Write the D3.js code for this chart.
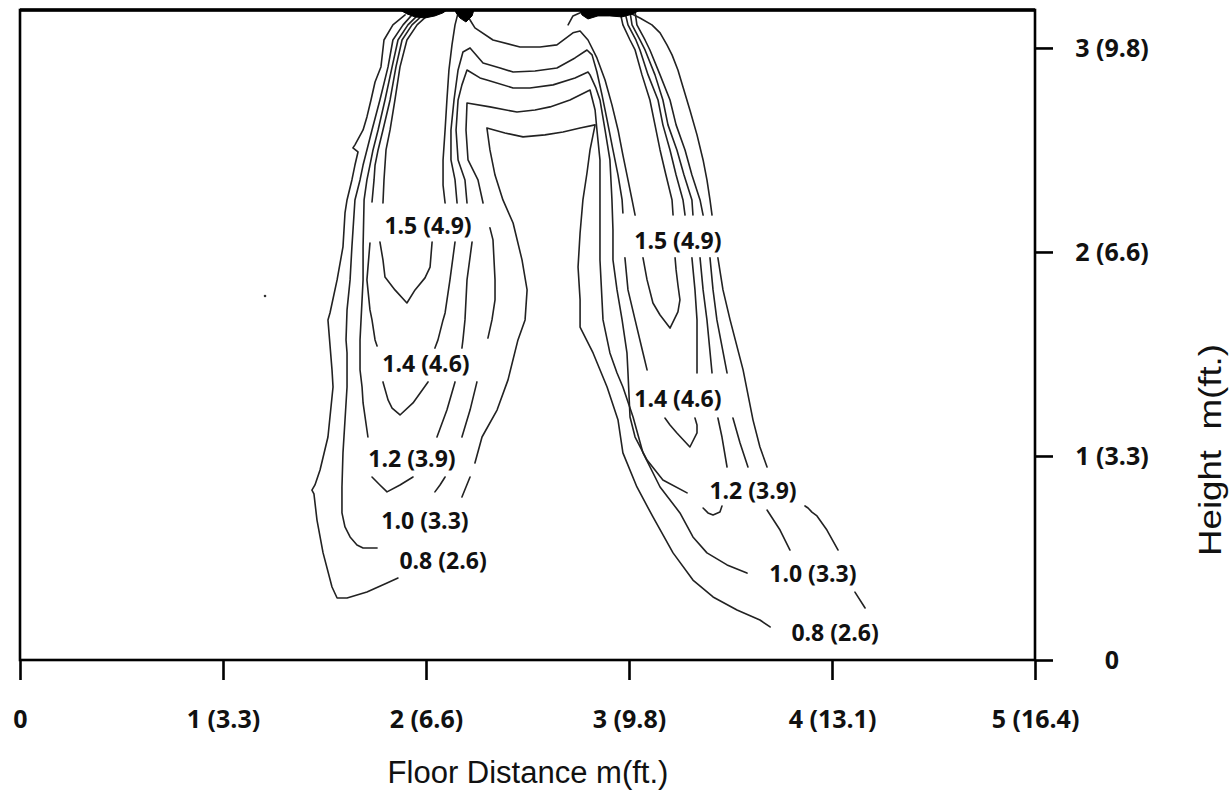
<!DOCTYPE html>
<html><head><meta charset="utf-8">
<script src="https://cdn.jsdelivr.net/npm/d3@7"></script>
<style>
body{margin:0;background:#fff;}
svg{display:block;background:#fff;}
</style></head>
<body>
<svg id="chart" width="1229" height="797"></svg>
<script>
// ---------- axes ----------
const xTicks = [0, 1, 2, 3, 4, 5];
const xTickLabels = ["0", "1 (3.3)", "2 (6.6)", "3 (9.8)", "4 (13.1)", "5 (16.4)"];
const yTicks = [0, 1, 2, 3];
const yTickLabels = ["0", "1 (3.3)", "2 (6.6)", "3 (9.8)"];
const xMax = 5;
const yTop = 3.186;
const xTitle = "Floor Distance m(ft.)";
const yTitle = "Height  m(ft.)";

// ---------- contour lines (metres: [floor distance, height]) ----------
const line08LeftOuter = [[1.897,3.162],[1.837,3.113],[1.793,3.039],[1.778,2.907],[1.749,2.833],[1.729,2.745],[1.709,2.662],[1.690,2.598],[1.650,2.525],[1.640,2.510],[1.665,2.490],[1.650,2.426],[1.635,2.353],[1.611,2.255],[1.601,2.191],[1.591,2.025],[1.562,1.863],[1.527,1.701],[1.517,1.667],[1.537,1.422],[1.542,1.338],[1.517,1.093],[1.478,0.931],[1.453,0.858],[1.438,0.833],[1.448,0.814],[1.463,0.686],[1.493,0.525],[1.537,0.358],[1.562,0.304],[1.611,0.304],[1.709,0.333],[1.808,0.377],[1.862,0.402]];
const line10LeftOuter = [[1.931,3.162],[1.887,3.113],[1.837,3.039],[1.813,2.907],[1.773,2.745],[1.734,2.598],[1.709,2.500],[1.690,2.426],[1.675,2.353],[1.650,2.255],[1.635,2.025],[1.626,1.863],[1.611,1.716],[1.606,1.569],[1.611,1.505],[1.611,1.338],[1.601,1.176],[1.591,1.015],[1.586,0.848],[1.586,0.721],[1.601,0.652],[1.626,0.603],[1.660,0.564],[1.690,0.549],[1.759,0.549]];
const line12LeftOuter = [[1.961,3.162],[1.911,3.113],[1.862,3.039],[1.833,2.907],[1.798,2.745],[1.764,2.598],[1.739,2.500],[1.724,2.426],[1.709,2.353],[1.695,2.255],[1.690,2.025],[1.690,1.863],[1.680,1.667],[1.675,1.569],[1.675,1.422],[1.685,1.338],[1.690,1.260],[1.714,1.093]];
const line14LeftOuterUpper = [[1.985,3.162],[1.931,3.113],[1.882,3.039],[1.852,2.907],[1.823,2.745],[1.788,2.598],[1.764,2.500],[1.749,2.426],[1.744,2.353],[1.734,2.245]];
const line14LeftOuterLower = [[1.724,2.044],[1.709,1.863],[1.724,1.716],[1.734,1.667],[1.749,1.569],[1.759,1.539]];
const line15LeftOuter = [[2.010,3.162],[1.956,3.113],[1.906,3.039],[1.872,2.907],[1.847,2.745],[1.823,2.598],[1.803,2.500],[1.793,2.353],[1.788,2.240]];
const loop15Left = [[1.773,2.049],[1.788,1.961],[1.798,1.877],[1.847,1.814],[1.906,1.750],[1.946,1.814],[1.995,1.873],[2.020,1.926],[2.030,2.049]];
const loop14Left = [[1.788,1.363],[1.813,1.275],[1.833,1.235],[1.872,1.201],[1.936,1.260],[2.010,1.363]];
const loop12Left = [[1.734,0.897],[1.773,0.858],[1.808,0.824],[1.872,0.858],[1.936,0.897]];
const line15LeftInner = [[2.158,3.172],[2.143,3.113],[2.128,3.015],[2.113,2.892],[2.103,2.745],[2.094,2.598],[2.084,2.451],[2.084,2.328],[2.094,2.240]];
const arch14 = [[2.153,2.240],[2.143,2.353],[2.123,2.451],[2.123,2.598],[2.138,2.745],[2.158,2.892],[2.182,2.980],[2.217,3.000],[2.281,2.926],[2.365,2.902],[2.429,2.882],[2.537,2.887],[2.645,2.902],[2.734,2.951],[2.793,2.990],[2.818,2.966],[2.842,2.882],[2.867,2.770],[2.892,2.647],[2.921,2.500],[2.946,2.377],[2.966,2.255],[2.970,2.191]];
const line14LeftInnerLower = [[2.143,2.049],[2.118,1.863],[2.094,1.701],[2.084,1.667],[2.059,1.569],[2.044,1.529]];
const arch12 = [[2.202,2.240],[2.192,2.353],[2.158,2.451],[2.148,2.598],[2.158,2.745],[2.177,2.819],[2.202,2.892],[2.266,2.853],[2.300,2.843],[2.429,2.804],[2.512,2.804],[2.626,2.819],[2.734,2.853],[2.798,2.882],[2.808,2.868],[2.837,2.804],[2.857,2.745],[2.882,2.598],[2.906,2.451],[2.916,2.255],[2.921,2.108],[2.921,1.961],[2.941,1.814],[2.966,1.667],[2.990,1.505],[2.995,1.407],[3.005,1.191],[3.030,1.093],[3.089,0.980],[3.167,0.882],[3.286,0.819]];
const line12LeftInnerMid = [[2.227,2.049],[2.202,1.863],[2.192,1.667],[2.182,1.569],[2.177,1.529]];
const line12LeftInnerLow = [[2.143,1.363],[2.103,1.225],[2.054,1.093]];
const arch10 = [[2.281,2.240],[2.256,2.353],[2.207,2.451],[2.197,2.598],[2.202,2.730],[2.315,2.711],[2.448,2.686],[2.537,2.696],[2.611,2.711],[2.709,2.745],[2.808,2.794],[2.833,2.696],[2.842,2.598],[2.857,2.451],[2.857,2.255],[2.857,2.108],[2.857,1.961],[2.872,1.667],[2.906,1.505],[2.941,1.407],[2.970,1.338],[3.020,1.191],[3.069,1.015],[3.153,0.848],[3.251,0.721],[3.315,0.603],[3.384,0.525],[3.483,0.466],[3.581,0.426]];
const line10LeftInnerMid = [[2.315,2.118],[2.330,2.059],[2.340,1.863],[2.340,1.765],[2.325,1.667],[2.305,1.578]];
const line10LeftInnerLow = [[2.251,1.363],[2.217,1.225],[2.177,1.093]];
const line10LeftInnerBottom = [[2.094,0.897],[2.069,0.858],[2.044,0.824]];
const line08InnerLow = [[2.177,0.799],[2.197,0.848],[2.217,0.897]];
const line08Inner = [[2.241,0.966],[2.276,1.093],[2.350,1.225],[2.404,1.373],[2.453,1.569],[2.488,1.667],[2.498,1.814],[2.473,1.961],[2.429,2.142],[2.379,2.255],[2.340,2.377],[2.315,2.500],[2.300,2.608],[2.389,2.583],[2.478,2.564],[2.586,2.574],[2.675,2.588],[2.759,2.608],[2.833,2.623],[2.808,2.500],[2.793,2.387],[2.773,2.255],[2.759,2.093],[2.749,1.926],[2.759,1.765],[2.759,1.632],[2.823,1.505],[2.892,1.338],[2.946,1.176],[2.970,1.015],[3.039,0.848],[3.118,0.701],[3.217,0.525],[3.315,0.392],[3.414,0.309],[3.532,0.245],[3.645,0.196],[3.695,0.162]];
const arch15 = [[2.197,3.176],[2.217,3.137],[2.241,3.098],[2.330,3.039],[2.463,3.005],[2.562,3.005],[2.645,3.015],[2.724,3.074],[2.759,3.083],[2.798,3.039],[2.842,2.951],[2.882,2.843],[2.916,2.721],[2.946,2.598],[2.970,2.475],[2.995,2.353],[3.015,2.255],[3.030,2.181]];
const loop15Right = [[3.069,1.971],[3.089,1.863],[3.118,1.750],[3.153,1.691],[3.202,1.627],[3.241,1.706],[3.251,1.765],[3.241,1.838],[3.232,1.912],[3.227,1.971]];
const line14RightInnerLower = [[2.980,1.971],[2.995,1.814],[3.030,1.667],[3.069,1.505],[3.089,1.422]];
const loop14Right = [[3.177,1.186],[3.202,1.152],[3.236,1.113],[3.300,1.044],[3.335,1.113],[3.335,1.152],[3.325,1.186]];
const loop12Right = [[3.365,0.745],[3.389,0.721],[3.414,0.711],[3.448,0.725],[3.458,0.755]];
const line15RightOuter = [[2.956,3.176],[2.970,3.113],[3.005,3.039],[3.030,2.990],[3.064,2.868],[3.103,2.745],[3.128,2.623],[3.153,2.500],[3.182,2.377],[3.212,2.255],[3.217,2.181]];
const line14RightOuterUpper = [[2.980,3.176],[2.995,3.113],[3.034,3.039],[3.054,2.990],[3.094,2.868],[3.143,2.745],[3.167,2.623],[3.202,2.500],[3.232,2.377],[3.266,2.255],[3.276,2.181]];
const line14RightOuterLower = [[3.310,1.971],[3.325,1.814],[3.335,1.667],[3.335,1.407]];
const line12RightOuterUpper = [[3.005,3.176],[3.015,3.113],[3.054,3.039],[3.079,2.990],[3.128,2.868],[3.167,2.745],[3.192,2.623],[3.236,2.500],[3.271,2.377],[3.310,2.255],[3.315,2.181]];
const line12RightOuterMid = [[3.350,1.971],[3.365,1.814],[3.384,1.667],[3.409,1.407]];
const line12RightOuterLow = [[3.438,1.186],[3.458,1.093],[3.483,0.946]];
const line10RightOuterUpper = [[3.030,3.176],[3.039,3.113],[3.079,3.039],[3.103,2.990],[3.153,2.868],[3.202,2.745],[3.232,2.623],[3.276,2.500],[3.310,2.377],[3.350,2.255],[3.365,2.181]];
const line10RightOuterMid = [[3.399,1.971],[3.414,1.814],[3.433,1.667],[3.483,1.407]];
const line10RightOuterLow = [[3.512,1.186],[3.547,1.064],[3.586,0.946]];
const line10RightOuterBottom = [[3.680,0.735],[3.744,0.637],[3.793,0.539]];
const line08RightOuterUpper = [[2.995,3.176],[3.054,3.147],[3.113,3.113],[3.153,3.074],[3.187,3.015],[3.212,2.966],[3.241,2.892],[3.266,2.809],[3.300,2.696],[3.335,2.574],[3.365,2.451],[3.384,2.353],[3.399,2.255],[3.409,2.181]];
const line08RightOuterMid = [[3.438,1.971],[3.463,1.814],[3.498,1.667],[3.562,1.422],[3.611,1.176],[3.645,1.044],[3.680,0.946]];
const line08RightOuterLow = [[3.867,0.755],[3.882,0.745],[3.901,0.725],[3.926,0.706],[3.975,0.637],[4.030,0.539]];
const line08RightOuterBottom = [[4.113,0.333],[4.163,0.255]];
const topSpurRight = [[2.700,3.113],[2.724,3.157],[2.768,3.176]];

// dense convergence zones at the ceiling (filled)
const blobLeft = [[1.872,3.186],[2.103,3.186],[2.084,3.172],[2.044,3.157],[1.995,3.147],[1.946,3.152],[1.906,3.167]];
const blobLeftSmall = [[2.143,3.186],[2.236,3.186],[2.227,3.157],[2.197,3.127],[2.167,3.147],[2.148,3.172]];
const blobRight = [[2.759,3.186],[3.054,3.186],[3.020,3.167],[2.966,3.152],[2.906,3.157],[2.847,3.157],[2.798,3.142],[2.768,3.162]];
const specks = [[1.207,1.784]];

// contour labels
const contourLabels = ["1.5 (4.9)", "1.4 (4.6)", "1.2 (3.9)", "1.0 (3.3)", "0.8 (2.6)",
                       "1.5 (4.9)", "1.4 (4.6)", "1.2 (3.9)", "1.0 (3.3)", "0.8 (2.6)"];
const contourLabelX = [2.010, 2.000, 1.931, 1.995, 2.084, 3.241, 3.241, 3.611, 3.906, 4.015];
const contourLabelY = [2.132, 1.456, 0.990, 0.686, 0.490, 2.059, 1.284, 0.833, 0.426, 0.137];

const contourLines = [
  line08LeftOuter, line10LeftOuter, line12LeftOuter, line14LeftOuterUpper, line14LeftOuterLower,
  line15LeftOuter, loop15Left, loop14Left, loop12Left, line15LeftInner, arch14, line14LeftInnerLower,
  arch12, line12LeftInnerMid, line12LeftInnerLow, arch10, line10LeftInnerMid, line10LeftInnerLow,
  line10LeftInnerBottom, line08InnerLow, line08Inner, arch15, loop15Right, line14RightInnerLower,
  loop14Right, loop12Right, line15RightOuter, line14RightOuterUpper, line14RightOuterLower,
  line12RightOuterUpper, line12RightOuterMid, line12RightOuterLow, line10RightOuterUpper,
  line10RightOuterMid, line10RightOuterLow, line10RightOuterBottom, line08RightOuterUpper,
  line08RightOuterMid, line08RightOuterLow, line08RightOuterBottom, topSpurRight
];
const blobs = [blobLeft, blobLeftSmall, blobRight];

// ---------- drawing ----------
const svg = d3.select("#chart");
const x = d3.scaleLinear().domain([0, xMax]).range([20, 1035]);
const y = d3.scaleLinear().domain([0, yTop]).range([660, 10]);
const lineGen = d3.line().x(d => x(d[0])).y(d => y(d[1]));

// contour lines
svg.append("g").selectAll("path").data(contourLines).join("path")
  .attr("d", lineGen)
  .attr("fill", "none").attr("stroke", "#222").attr("stroke-width", 1.6)
  .attr("stroke-linejoin", "round").attr("stroke-linecap", "round");

svg.append("g").selectAll("path").data(blobs).join("path")
  .attr("d", d => lineGen(d) + "Z")
  .attr("fill", "#000").attr("stroke", "#000").attr("stroke-width", 1);

svg.append("g").selectAll("circle").data(specks).join("circle")
  .attr("cx", d => x(d[0])).attr("cy", d => y(d[1])).attr("r", 1.3).attr("fill", "#333");

// contour labels
svg.append("g").selectAll("text").data(contourLabels).join("text")
  .attr("x", (d, i) => x(contourLabelX[i]))
  .attr("y", (d, i) => y(contourLabelY[i]))
  .attr("text-anchor", "middle").attr("dominant-baseline", "central")
  .attr("font-family", "'Open Sans', sans-serif").attr("font-weight", 700)
  .attr("font-size", 23).attr("fill", "#111")
  .text(d => d);

// frame
svg.append("rect")
  .attr("x", x(0)).attr("y", y(yTop))
  .attr("width", x(xMax) - x(0)).attr("height", y(0) - y(yTop))
  .attr("fill", "none").attr("stroke", "#000").attr("stroke-width", 2.6);
svg.append("line")
  .attr("x1", x(0)).attr("x2", x(xMax)).attr("y1", y(yTop)).attr("y2", y(yTop))
  .attr("stroke", "#000").attr("stroke-width", 3.6);

// bottom axis
const gx = svg.append("g").attr("transform", `translate(0,${y(0)})`)
  .call(d3.axisBottom(x).tickValues(xTicks)
    .tickFormat(d => xTickLabels[xTicks.indexOf(d)])
    .tickSize(20).tickSizeOuter(0));
gx.select(".domain").remove();
gx.selectAll(".tick line").attr("stroke", "#000").attr("stroke-width", 2.6);
gx.selectAll(".tick text")
  .attr("y", 68).attr("dy", 0)
  .attr("font-family", "'Open Sans', sans-serif").attr("font-weight", 700)
  .attr("font-size", 25).attr("fill", "#111");

// right axis
const gy = svg.append("g").attr("transform", `translate(${x(xMax)},0)`)
  .call(d3.axisRight(y).tickValues(yTicks)
    .tickFormat(d => yTickLabels[yTicks.indexOf(d)])
    .tickSize(18).tickSizeOuter(0));
gy.select(".domain").remove();
gy.selectAll(".tick line").attr("stroke", "#000").attr("stroke-width", 2.6);
gy.selectAll(".tick text")
  .attr("x", 77).attr("dy", "0.35em").attr("text-anchor", "middle")
  .attr("font-family", "'Open Sans', sans-serif").attr("font-weight", 700)
  .attr("font-size", 25).attr("fill", "#111");

// axis titles
svg.append("text")
  .attr("x", 528).attr("y", 783).attr("text-anchor", "middle")
  .attr("font-family", "'Liberation Sans', Arial, sans-serif").attr("font-size", 31)
  .attr("fill", "#111").text(xTitle);
svg.append("text")
  .attr("transform", "translate(1221,450) rotate(-90)")
  .attr("text-anchor", "middle")
  .attr("font-family", "'Liberation Sans', Arial, sans-serif").attr("font-size", 31)
  .attr("fill", "#111").style("white-space", "pre")
  .attr("textLength", 212).attr("lengthAdjust", "spacingAndGlyphs")
  .text(yTitle);
</script>
</body></html>
